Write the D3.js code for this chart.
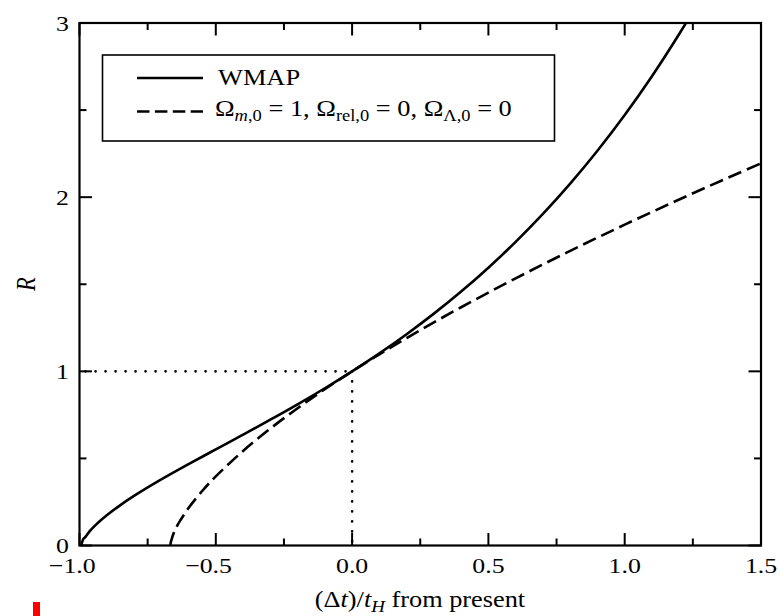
<!DOCTYPE html>
<html>
<head>
<meta charset="utf-8">
<script src="https://cdn.jsdelivr.net/npm/d3@7"></script>
<style>
  html, body { margin: 0; padding: 0; background: #fff; }
  svg { display: block; }
  text { font-family: "Liberation Serif", "DejaVu Serif", serif; fill: #000; }
</style>
</head>
<body>
<svg id="chart" width="780" height="616"></svg>
<script>
// Scale factor R against time from the present, in units of the Hubble time.
const wmapT = [-0.9927, -0.9915, -0.99, -0.988, -0.985, -0.98, -0.97, -0.96, -0.945, -0.93, -0.9, -0.85, -0.8, -0.7, -0.6, -0.5, -0.4, -0.3, -0.2, -0.1, 0.0, 0.1, 0.2, 0.3, 0.4, 0.5, 0.6, 0.7, 0.8, 0.9, 1.0, 1.1, 1.2, 1.25];
const wmapR = [0.0, 0.0123, 0.0217, 0.0304, 0.0398, 0.0461, 0.0666, 0.0866, 0.1113, 0.1337, 0.1737, 0.2321, 0.2845, 0.3792, 0.4670, 0.5519, 0.6364, 0.7221, 0.8105, 0.9028, 1.0, 1.1031, 1.2132, 1.3312, 1.4581, 1.5951, 1.7432, 1.9037, 2.0776, 2.2664, 2.4716, 2.6945, 2.9369, 3.0660];

const flatT = [-0.6667, -0.6655, -0.664, -0.662, -0.66, -0.655, -0.65, -0.64, -0.63, -0.6, -0.55, -0.5, -0.4, -0.3, -0.2, -0.1, 0.0, 0.1, 0.2, 0.3, 0.4, 0.5, 0.6, 0.7, 0.8, 0.9, 1.0, 1.1, 1.2, 1.3, 1.4, 1.5];
const flatR = [0.0, 0.0145, 0.0252, 0.0349, 0.0464, 0.0690, 0.0855, 0.1186, 0.1446, 0.2154, 0.3129, 0.3969, 0.5429, 0.6713, 0.7884, 0.8973, 1.0, 1.0977, 1.1911, 1.2811, 1.3680, 1.4522, 1.5340, 1.6137, 1.6916, 1.7676, 1.8420, 1.9150, 1.9866, 2.0569, 2.1261, 2.1941];

const xTicks = [-1.0, -0.5, 0.0, 0.5, 1.0, 1.5];
const xMinor = [-0.75, -0.25, 0.25, 0.75, 1.25];
const yTicks = [0, 1, 2, 3];
const yMinor = [0.5, 1.5, 2.5];

const legendLabels = ["WMAP"];

const svg = d3.select("#chart");
const x = d3.scaleLinear().domain([-1.0, 1.5]).range([79.5, 761]);
const y = d3.scaleLinear().domain([0, 3]).range([545.5, 23]);

// lettering sizes and horizontal stretch
const TICK_FS = 21.5, TICK_SX = 1.2;
const LEG_FS = 24, LEG_SX = 1.1;
const TITLE_FS = 22.5, TITLE_SX = 1.17;

// plot region clip
svg.append("defs").append("clipPath").attr("id", "plotClip")
  .append("rect").attr("x", x(-1)).attr("y", y(3)).attr("width", x(1.5) - x(-1)).attr("height", y(0) - y(3));

// dotted guides at R = 1 and Δt = 0
const dotStyle = g => g.attr("stroke", "#000").attr("stroke-width", 2.6)
  .attr("stroke-linecap", "round").attr("stroke-dasharray", "0.1 9.9").attr("fill", "none");
svg.append("line").attr("x1", x(-1) + 6).attr("x2", x(0)).attr("y1", y(1)).attr("y2", y(1)).call(dotStyle);
svg.append("line").attr("x1", x(0)).attr("x2", x(0)).attr("y1", y(1)).attr("y2", y(0) - 4).call(dotStyle);

// curves
const line = d3.line().x(d => x(d[0])).y(d => y(d[1])).curve(d3.curveCatmullRom.alpha(0.5));
const curves = svg.append("g").attr("clip-path", "url(#plotClip)");
curves.append("path").datum(wmapT.map((t, i) => [t, wmapR[i]]))
  .attr("d", line).attr("fill", "none").attr("stroke", "#000").attr("stroke-width", 2.6);
curves.append("path").datum(flatT.map((t, i) => [t, flatR[i]]))
  .attr("d", line).attr("fill", "none").attr("stroke", "#000").attr("stroke-width", 2.6)
  .attr("stroke-dasharray", "14 6");

// frame
svg.append("rect").attr("x", x(-1)).attr("y", y(3)).attr("width", x(1.5) - x(-1)).attr("height", y(0) - y(3))
  .attr("fill", "none").attr("stroke", "#000").attr("stroke-width", 2.2);

// inward ticks on all four sides
const MAJ = 12.5, MIN = 7;
const tg = svg.append("g").attr("stroke", "#000").attr("stroke-width", 2);
xTicks.concat(xMinor).forEach(v => {
  const L = xTicks.includes(v) ? MAJ : MIN;
  tg.append("line").attr("x1", x(v)).attr("x2", x(v)).attr("y1", y(0)).attr("y2", y(0) - L);
  tg.append("line").attr("x1", x(v)).attr("x2", x(v)).attr("y1", y(3)).attr("y2", y(3) + L);
});
yTicks.concat(yMinor).forEach(v => {
  const L = yTicks.includes(v) ? MAJ : MIN;
  tg.append("line").attr("x1", x(-1)).attr("x2", x(-1) + L).attr("y1", y(v)).attr("y2", y(v));
  tg.append("line").attr("x1", x(1.5)).attr("x2", x(1.5) - L).attr("y1", y(v)).attr("y2", y(v));
});

// stretched text helper
function label(px, py, anchor, fs, sx) {
  return svg.append("g").attr("transform", `translate(${px},${py}) scale(${sx},1)`)
    .append("text").attr("text-anchor", anchor).attr("font-size", fs);
}

// x tick labels: number centred on the tick, minus sign hanging left
const fmt = d3.format(".1f");
xTicks.forEach(v => {
  const t = label(x(v), 572.5, "middle", TICK_FS, TICK_SX).text(fmt(Math.abs(v)));
  if (v < 0) {
    const w = t.node().getComputedTextLength();
    label(x(v) - w * TICK_SX / 2, 572.5, "end", TICK_FS, TICK_SX).text("\u2212");
  }
});
// y tick labels
yTicks.forEach(v => {
  label(69, y(v) + 7.5, "end", TICK_FS, TICK_SX).text(d3.format("d")(v));
});

// axis titles
const xt = label(420, 607, "middle", TITLE_FS, TITLE_SX);
xt.append("tspan").text("(\u0394");
xt.append("tspan").attr("font-style", "italic").text("t");
xt.append("tspan").text(")/");
xt.append("tspan").attr("font-style", "italic").text("t");
xt.append("tspan").attr("font-style", "italic").attr("font-size", TITLE_FS * 0.72).attr("dy", 5).text("H");
xt.append("tspan").attr("dy", -5).text(" from present");

svg.append("g").attr("transform", "translate(35,284) rotate(-90) scale(1,1.2)")
  .append("text").attr("text-anchor", "middle").attr("font-size", TITLE_FS).attr("font-style", "italic").text("R");

// legend
const lg = svg.append("g");
lg.append("rect").attr("x", 102.5).attr("y", 55).attr("width", 452).attr("height", 86)
  .attr("fill", "#fff").attr("stroke", "#000").attr("stroke-width", 1.6);
lg.append("line").attr("x1", 137).attr("x2", 203).attr("y1", 78).attr("y2", 78)
  .attr("stroke", "#000").attr("stroke-width", 2.6);
lg.append("line").attr("x1", 137).attr("x2", 203).attr("y1", 111.5).attr("y2", 111.5)
  .attr("stroke", "#000").attr("stroke-width", 2.6).attr("stroke-dasharray", "12.5 5.4");
label(218, 84.5, "start", LEG_FS, LEG_SX).text(legendLabels[0]);

const lt = label(215, 116, "start", LEG_FS, LEG_SX);
const SUB = LEG_FS * 0.7;
const sub = (s) => lt.append("tspan").attr("font-size", SUB).attr("dy", 5).text(s);
const back = (s) => lt.append("tspan").attr("dy", -5).text(s);
lt.append("tspan").text("\u03A9");
lt.append("tspan").attr("font-size", SUB).attr("dy", 5).attr("font-style", "italic").text("m");
lt.append("tspan").attr("font-size", SUB).text(",0");
back(" = 1, \u03A9");
sub("rel,0");
back(" = 0, \u03A9");
sub("\u039B,0");
back(" = 0");

// small red mark at lower left
svg.append("rect").attr("x", 33).attr("y", 602).attr("width", 7).attr("height", 14).attr("fill", "#ff0000");
</script>
</body>
</html>
